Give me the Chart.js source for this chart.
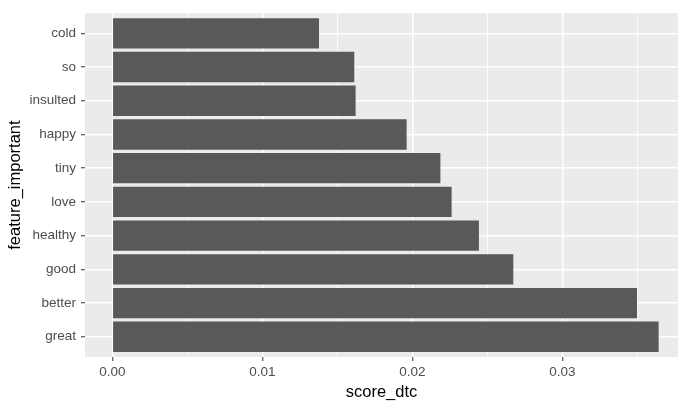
<!DOCTYPE html>
<html>
<head>
<meta charset="utf-8">
<script src="https://cdn.jsdelivr.net/npm/chart.js@4/dist/chart.umd.min.js"></script>
<style>
  html, body { margin: 0; padding: 0; background: #ffffff; overflow: hidden; }
  #wrap { position: relative; width: 678px; height: 405px; }
</style>
</head>
<body>
<div id="wrap"><canvas id="c" width="678" height="405"></canvas></div>
<script>
// ---- data ----
const categories = ['cold', 'so', 'insulted', 'happy', 'tiny', 'love', 'healthy', 'good', 'better', 'great'];
const scores = [0.01378, 0.01613, 0.01622, 0.01962, 0.02187, 0.02262, 0.02444, 0.02673, 0.03498, 0.03642];
const xTickValues = [0, 0.005, 0.01, 0.015, 0.02, 0.025, 0.03, 0.035];
const xTickLabels = ['0.00', '', '0.01', '', '0.02', '', '0.03', ''];
const xTitle = 'score_dtc';
const yTitle = 'feature_important';

const FONT = "'Liberation Sans', Arial, sans-serif";
const isMajor = v => Math.abs(Math.round(v * 100) - v * 100) < 1e-9;

const panelBg = {
  id: 'panelBg',
  beforeDraw(chart) {
    const a = chart.chartArea, ctx = chart.ctx;
    ctx.save();
    ctx.fillStyle = '#EBEBEB';
    ctx.fillRect(a.left, a.top, a.right - a.left, a.bottom - a.top);
    ctx.restore();
  }
};

new Chart(document.getElementById('c'), {
  type: 'bar',
  plugins: [panelBg],
  data: {
    datasets: [{
      data: categories.map((c, i) => ({ x: scores[i], y: i + 1 })),
      backgroundColor: '#595959',
      borderWidth: 0,
      barPercentage: 0.9,
      categoryPercentage: 1.0
    }]
  },
  options: {
    indexAxis: 'y',
    responsive: false,
    animation: false,
    events: [],
    layout: { padding: { top: 6, right: 0, left: 0, bottom: 0 } },
    plugins: { legend: { display: false }, tooltip: { enabled: false } },
    scales: {
      x: {
        type: 'linear',
        min: -0.00182,
        max: 0.03771,
        afterBuildTicks: s => { s.ticks = xTickValues.map(v => ({ value: v })); },
        afterFit: s => { s.height = 48; },
        border: { display: false },
        grid: {
          color: '#FFFFFF',
          lineWidth: c => (c.tick && isMajor(c.tick.value)) ? 1.5 : 0.8,
          tickColor: c => (c.tick && isMajor(c.tick.value)) ? '#333333' : 'rgba(0,0,0,0)',
          tickLength: 4,
          tickWidth: 1
        },
        ticks: {
          autoSkip: false,
          maxRotation: 0,
          padding: 3,
          color: '#4D4D4D',
          font: { family: FONT, size: 13.5 },
          callback: (v, i) => xTickLabels[xTickValues.indexOf(v)] ?? ''
        },
        title: {
          display: true,
          text: xTitle,
          color: '#000000',
          font: { family: FONT, size: 16.5 },
          padding: { top: 0, bottom: 3 }
        }
      },
      y: {
        type: 'linear',
        reverse: true,
        min: 0.4,
        max: 10.6,
        offset: false,
        afterBuildTicks: s => { s.ticks = categories.map((c, i) => ({ value: i + 1 })); },
        afterFit: s => { s.width = 85; },
        border: { display: false },
        grid: {
          offset: false,
          color: '#FFFFFF',
          lineWidth: 1.5,
          tickColor: '#333333',
          tickLength: 4,
          tickWidth: 1
        },
        ticks: {
          autoSkip: false,
          padding: 5,
          color: '#4D4D4D',
          font: { family: FONT, size: 13.5 },
          callback: v => categories[v - 1] ?? ''
        },
        title: {
          display: true,
          text: yTitle,
          color: '#000000',
          font: { family: FONT, size: 16.5 },
          padding: { top: 6, bottom: 0 }
        }
      }
    }
  }
});
</script>
</body>
</html>
